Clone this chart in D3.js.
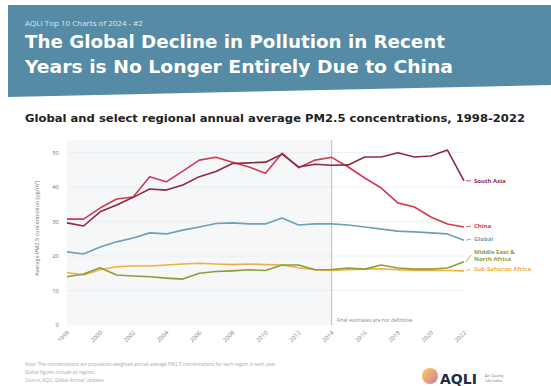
<!DOCTYPE html>
<html>
<head>
<meta charset="utf-8">
<script src="https://cdn.jsdelivr.net/npm/d3@7"></script>
<style>
  html, body { margin: 0; padding: 0; background: #fff; }
  svg { display: block; }
</style>
</head>
<body>
<svg id="chart" width="551" height="386"></svg>
<script>
// Years and annual average PM2.5 (µg/m³) by region
const years = d3.range(1998, 2023);
const southAsia = [29.6, 28.7, 32.8, 34.8, 37.0, 39.4, 39.1, 40.6, 43.0, 44.5, 46.8, 47.0, 47.2, 49.5, 45.8, 46.6, 46.3, 46.4, 48.7, 48.7, 49.9, 48.7, 49.0, 50.7, 41.8];
const china     = [30.7, 30.7, 33.9, 36.5, 37.1, 43.0, 41.5, 44.6, 47.8, 48.6, 47.2, 45.8, 44.0, 49.8, 45.6, 47.8, 48.6, 45.8, 42.6, 39.7, 35.4, 34.2, 31.3, 29.3, 28.4];
const global    = [21.2, 20.6, 22.6, 24.1, 25.2, 26.7, 26.4, 27.5, 28.4, 29.4, 29.6, 29.3, 29.3, 31.0, 29.0, 29.3, 29.3, 29.0, 28.4, 27.8, 27.2, 27.0, 26.7, 26.4, 24.6];
const mena      = [14.0, 14.8, 16.6, 14.5, 14.2, 14.0, 13.6, 13.3, 15.0, 15.5, 15.7, 16.0, 15.8, 17.4, 17.4, 16.0, 16.1, 16.5, 16.2, 17.4, 16.5, 16.2, 16.2, 16.5, 18.3];
const ssa       = [15.2, 14.5, 16.0, 16.9, 17.1, 17.1, 17.4, 17.7, 17.9, 17.7, 17.5, 17.7, 17.5, 17.4, 16.6, 16.0, 15.8, 16.0, 16.2, 16.3, 16.0, 15.8, 15.8, 15.8, 15.7];
const seriesNames = ["South Asia", "China", "Global", "Middle East &\nNorth Africa", "Sub-Saharan Africa"];
const seriesColors = ["#8f2a42", "#cd3b52", "#6c9fb8", "#8c9d3c", "#eeb043"];
const yTicks = [0, 10, 20, 30, 40, 50];
const xTicks = d3.range(1998, 2023, 2);
const estimateYear = 2014;

const series = [southAsia, china, global, mena, ssa].map((vals, i) => ({
  name: seriesNames[i], color: seriesColors[i], values: vals
}));

const svg = d3.select("#chart");
const font = "'Open Sans', 'DejaVu Sans', sans-serif";

// Header banner
svg.append("path")
  .attr("d", "M8,5 L551,5 L551,85 L8,97 Z")
  .attr("fill", "#558ba4");
svg.append("text").attr("x", 25).attr("y", 26)
  .attr("font-family", font).attr("font-size", 8).attr("fill", "#dbe8ef")
  .text("AQLI Top 10 Charts of 2024 - #2");
svg.append("text").attr("x", 25).attr("y", 48)
  .attr("font-family", "'DejaVu Sans', sans-serif").attr("font-weight", "bold")
  .attr("font-size", 18.5).attr("fill", "#ffffff")
  .attr("textLength", 420).attr("lengthAdjust", "spacingAndGlyphs")
  .text("The Global Decline in Pollution in Recent");
svg.append("text").attr("x", 25).attr("y", 73)
  .attr("font-family", "'DejaVu Sans', sans-serif").attr("font-weight", "bold")
  .attr("font-size", 18.5).attr("fill", "#ffffff")
  .attr("textLength", 428).attr("lengthAdjust", "spacingAndGlyphs")
  .text("Years is No Longer Entirely Due to China");

// Subtitle
svg.append("text").attr("x", 25).attr("y", 122)
  .attr("font-family", "'DejaVu Sans', sans-serif").attr("font-weight", "bold")
  .attr("font-size", 10.5).attr("fill", "#222")
  .attr("textLength", 500).attr("lengthAdjust", "spacingAndGlyphs")
  .text("Global and select regional annual average PM2.5 concentrations, 1998-2022");

// Scales
const x = d3.scaleLinear().domain([1998, 2022]).range([67, 464]);
const y = d3.scaleLinear().domain([0, 50]).range([325, 152.5]);
const plotTop = 140;

// Shaded area for final estimates
svg.append("rect")
  .attr("x", x(1998)).attr("y", plotTop)
  .attr("width", x(estimateYear) - x(1998)).attr("height", y(0) - plotTop)
  .attr("fill", "#f5f7f9");

// Gridlines
svg.append("g").selectAll("line").data(yTicks.filter(d => d > 0)).join("line")
  .attr("x1", x(1998)).attr("x2", x(2022))
  .attr("y1", d => y(d)).attr("y2", d => y(d))
  .attr("stroke", "#e9ecef").attr("stroke-width", 0.8);

// Y axis
const yAxis = svg.append("g").attr("transform", `translate(${x(1998) - 4},0)`)
  .call(d3.axisLeft(y).tickValues(yTicks).tickSize(0).tickPadding(4));
yAxis.select(".domain").remove();
yAxis.selectAll("text").attr("font-family", font).attr("font-size", 6).attr("fill", "#777");

svg.append("text")
  .attr("transform", `translate(39,${y(28)}) rotate(-90)`)
  .attr("text-anchor", "middle")
  .attr("font-family", font).attr("font-size", 5.5).attr("fill", "#777")
  .text("Average PM2.5 concentration (µg/m³)");

// X axis
const xAxis = svg.append("g").attr("transform", `translate(0,${y(0) + 6})`)
  .call(d3.axisBottom(x).tickValues(xTicks).tickFormat(d3.format("d")).tickSize(0).tickPadding(0));
xAxis.select(".domain").remove();
xAxis.selectAll("text")
  .attr("font-family", font).attr("font-size", 6).attr("fill", "#888")
  .attr("text-anchor", "end")
  .attr("dx", "0").attr("dy", "0.5em")
  .attr("transform", "rotate(-45)");

// Estimates divider
svg.append("line")
  .attr("x1", x(estimateYear)).attr("x2", x(estimateYear))
  .attr("y1", plotTop).attr("y2", y(0))
  .attr("stroke", "#a9adb2").attr("stroke-width", 0.8);
svg.append("text").attr("x", x(estimateYear) + 5).attr("y", y(0) - 3)
  .attr("font-family", font).attr("font-size", 5).attr("fill", "#888")
  .text("Final estimates are not definitive");

// Lines
const line = d3.line().x((d, i) => x(years[i])).y(d => y(d)).curve(d3.curveLinear);
svg.append("g").selectAll("path").data(series.slice().reverse()).join("path")
  .attr("d", d => line(d.values))
  .attr("fill", "none")
  .attr("stroke", d => d.color)
  .attr("stroke-width", 1.6)
  .attr("stroke-linejoin", "round");

// End labels with short leaders
const labelY = [183, 228, 241, 257, 271];
series.forEach((s, i) => {
  const endY = y(s.values[s.values.length - 1]);
  svg.append("line")
    .attr("x1", x(2022) + 2).attr("y1", endY)
    .attr("x2", x(2022) + 7).attr("y2", labelY[i] - 2)
    .attr("stroke", s.color).attr("stroke-width", 0.8);
  const t = svg.append("text").attr("x", x(2022) + 10).attr("y", labelY[i])
    .attr("font-family", font).attr("font-weight", "bold")
    .attr("font-size", 6).attr("fill", s.color);
  const parts = s.name.split("\n");
  parts.forEach((p, j) => {
    t.append("tspan").attr("x", x(2022) + 10)
      .attr("dy", j === 0 ? (parts.length > 1 ? -3.5 : 0) : 7).text(p);
  });
});

// Footer notes
const notes = [
  "Note: The concentrations are population-weighted annual average PM2.5 concentrations for each region in each year.",
  "Global figures include all regions.",
  "Source: AQLI, Global Annual Updates"
];
svg.append("g").selectAll("text").data(notes).join("text")
  .attr("x", 25).attr("y", (d, i) => 366 + i * 8)
  .attr("font-family", font).attr("font-size", 4.6).attr("fill", "#aaa")
  .text(d => d);

// AQLI mark
const defs = svg.append("defs");
const grad = defs.append("linearGradient").attr("id", "globe").attr("x1", 0).attr("x2", 1).attr("y1", 0).attr("y2", 1);
grad.append("stop").attr("offset", "0%").attr("stop-color", "#f2c14e");
grad.append("stop").attr("offset", "55%").attr("stop-color", "#e2875a");
grad.append("stop").attr("offset", "100%").attr("stop-color", "#9b5fa0");
svg.append("circle").attr("cx", 430).attr("cy", 376).attr("r", 8)
  .attr("fill", "url(#globe)").attr("opacity", 0.8);
svg.append("text").attr("x", 440).attr("y", 384)
  .attr("font-family", "'DejaVu Sans', sans-serif").attr("font-weight", "bold")
  .attr("font-size", 14).attr("fill", "#1f2a44").text("AQLI");
svg.append("text").attr("x", 485).attr("y", 377)
  .attr("font-family", font).attr("font-size", 3.8).attr("fill", "#777").text("Air Quality");
svg.append("text").attr("x", 485).attr("y", 382)
  .attr("font-family", font).attr("font-size", 3.8).attr("fill", "#777").text("Life Index");
</script>
</body>
</html>
